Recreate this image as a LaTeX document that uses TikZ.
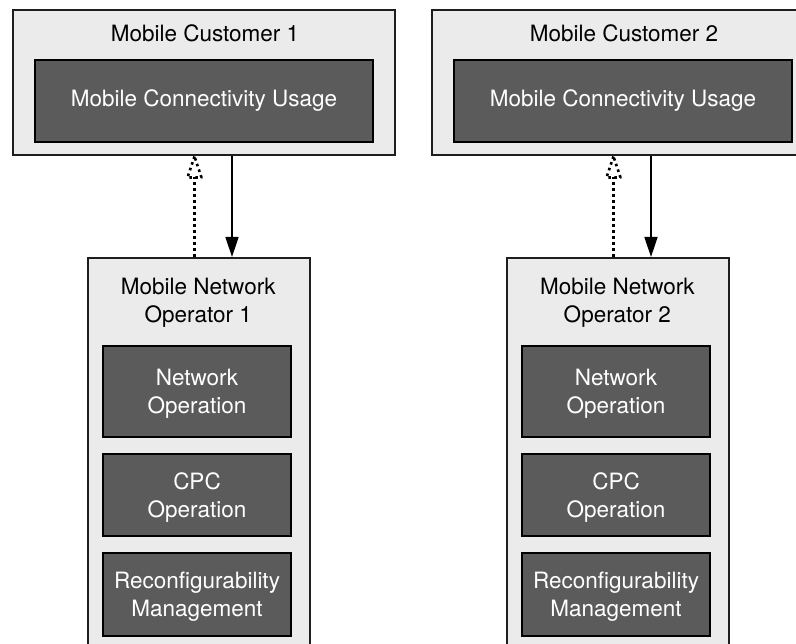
\documentclass[tikz,border=0pt]{standalone}
\usepackage{fontspec}
\setmainfont{TeX Gyre Heros}
\usetikzlibrary{arrows.meta,calc}
\definecolor{panelfill}{HTML}{EBEBEB}
\definecolor{blockfill}{HTML}{5B5B5B}
\definecolor{edgecol}{HTML}{1E1E1E}
\begin{document}
\begin{tikzpicture}[x=1pt,y=-1pt,
  font=\fontsize{22.5}{28}\selectfont,
  panelbox/.style={draw=edgecol, line width=2pt, fill=panelfill, inner sep=0pt},
  blockbox/.style={draw=black, line width=1.5pt, fill=blockfill, text=white,
                   align=center, inner sep=0pt},
  opblock/.style={blockbox, minimum width=188pt, text depth=0pt},
  titletext/.style={inner sep=0pt, align=center, text=black},
  flow/.style={line width=1.5pt, -{Triangle[length=20pt,width=13pt]}},
  dotline/.style={line width=2.6pt, dash pattern=on 2.6pt off 3.4pt, line join=round}]
\useasboundingbox (0,0) rectangle (796,644);
\clip (0,0) rectangle (796,644);

% customers
\node[panelbox, minimum width=382pt, minimum height=145.5pt] (cu1) at (204,82.75) {};
\node[titletext, anchor=base] (cu1t) at (205,41.7) {Mobile Customer 1};
\node[blockbox, minimum width=338pt, minimum height=82pt] (cu1u) at (204,101) {Mobile Connectivity Usage};

\node[panelbox, minimum width=382pt, minimum height=145.5pt] (cu2) at (623,82.75) {};
\node[titletext, anchor=base] (cu2t) at (624,41.7) {Mobile Customer 2};
\node[blockbox, minimum width=338pt, minimum height=82pt] (cu2u) at (623,101) {Mobile Connectivity Usage};

% operators
\foreach \n/\cx/\bx in {1/198.75/197, 2/617.85/616}{
  \node[panelbox, minimum width=221.5pt, minimum height=420pt] (op\n) at (\cx,468) {};
  \node[titletext] (op\n t) at (\cx-0.5,303) {Mobile Network\\Operator \n};
  \node[opblock, minimum height=91pt] (op\n a) at (\bx,391.5) {Network\\Operation};
  \node[opblock, minimum height=82pt] (op\n b) at (\bx,495) {CPC\\Operation};
  \node[opblock, minimum height=83pt] (op\n c) at (\bx,594.5) {Reconfigurability\\Management};
}

% links between customer and operator
\foreach \n in {1,2}{
  \draw[flow] ([xshift=28pt]cu\n.south) -- ([xshift=28pt]cu\n.south |- op\n.north);
  \draw[dotline] ([xshift=-9.5pt]cu\n.south |- op\n.north) -- ([xshift=-9.5pt,yshift=-21pt]cu\n.south);
  \draw[dotline] ([xshift=-9.5pt]cu\n.south) -- ++(-7,21) -- ++(14,0) -- cycle;
}
\end{tikzpicture}
\end{document}
